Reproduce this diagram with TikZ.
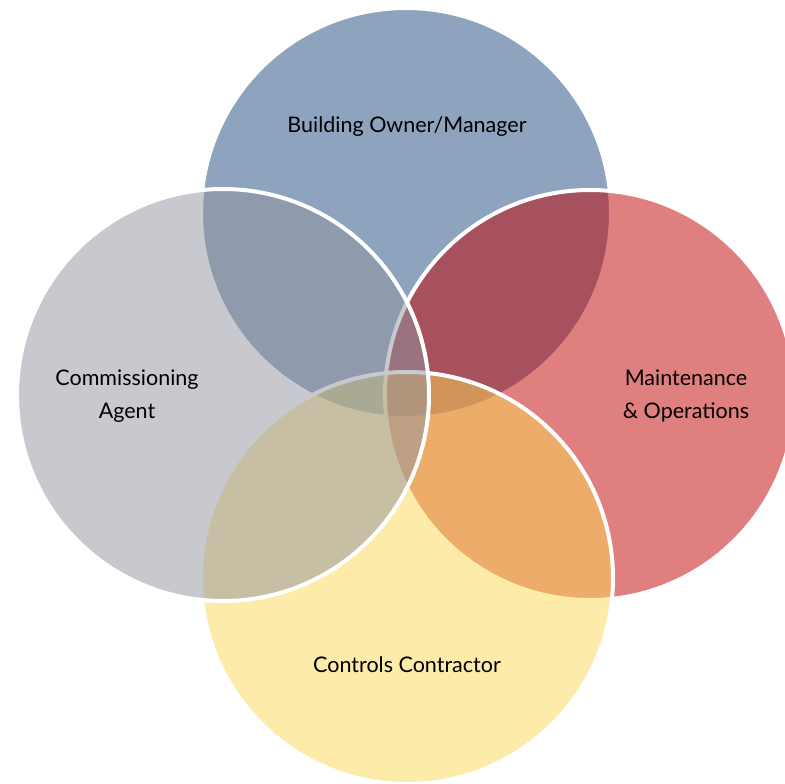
\documentclass[tikz,border=0pt]{standalone}
\usepackage{fontspec}
\setmainfont{Lato}
\definecolor{cblue}{RGB}{31,73,125}
\definecolor{cred}{RGB}{192,0,0}
\definecolor{cyellow}{RGB}{251,217,85}
\definecolor{cgray}{RGB}{145,149,159}
\begin{document}
\begin{tikzpicture}[x=1pt,y=-1pt,
  venn/.style={draw=white,line width=4pt,fill opacity=0.5,draw opacity=1},
  lab/.style={font=\fontsize{21.5}{33}\selectfont,align=center,text=black}]
\useasboundingbox (0,0) rectangle (785,784);
\clip (0,0) rectangle (785,784);
\fill[white] (0,0) rectangle (785,784);
\path[venn,fill=cblue] (406,213) circle[radius=205] coordinate (ctop);
\path[venn,fill=cred] (590,395) circle[radius=205] coordinate (cright);
\path[venn,fill=cyellow] (407,578) circle[radius=206] coordinate (cbottom);
\path[venn,fill=cgray] (223,395) circle[radius=206] coordinate (cleft);
\node[lab] (t) at (407,127) {Building Owner/Manager};
\node[lab] (l) at (127,396) {Commissioning\\Agent};
\node[lab] (r) at (686,396) {Maintenance\\\& Operations};
\node[lab] (b) at (407,665) {Controls Contractor};
\end{tikzpicture}
\end{document}
